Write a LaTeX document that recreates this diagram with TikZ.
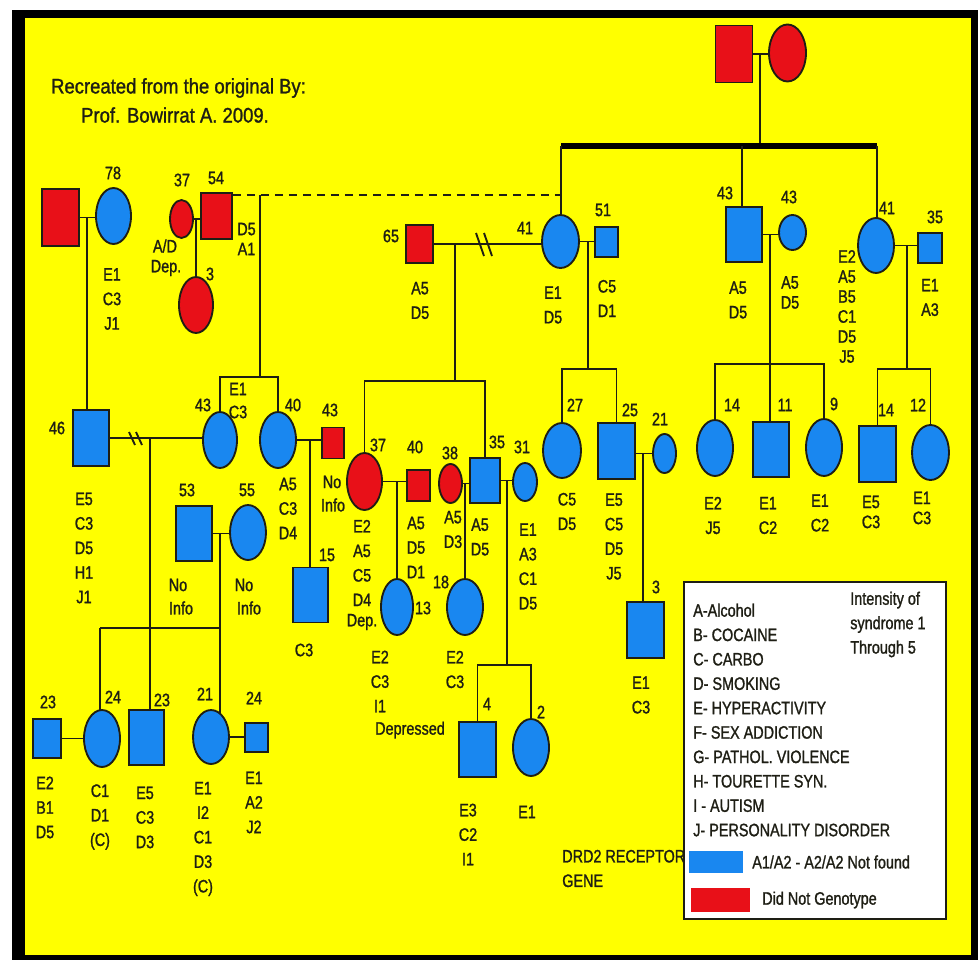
\documentclass[tikz,border=0pt]{standalone}
\usepackage{fontspec}
\setmainfont{Liberation Sans}
\newfontfamily\cf[FakeStretch=0.8,FakeBold=1.2]{Liberation Sans}
\newfontfamily\tf[FakeStretch=0.88,FakeBold=1.2]{Liberation Sans}
\usetikzlibrary{shapes.geometric}
\definecolor{yel}{RGB}{255,255,0}
\definecolor{blu}{RGB}{25,135,240}
\definecolor{rd}{RGB}{232,16,24}
\definecolor{ink}{RGB}{30,30,20}
\pgfdeclarelayer{bg}
\pgfdeclarelayer{lines}
\pgfsetlayers{bg,lines,main}
\begin{document}
\begin{tikzpicture}[x=0.75pt,y=-0.75pt,
  sq/.style 2 args={rectangle,draw=ink,line width=1.4pt,inner sep=0pt,minimum width=#1*0.75pt,minimum height=#2*0.75pt},
  el/.style 2 args={ellipse,draw=ink,line width=1.4pt,inner sep=0pt,minimum width=#1*0.75pt,minimum height=#2*0.75pt},
  B/.style={fill=blu}, R/.style={fill=rd},
  ln/.style={draw=ink,line width=1.4pt},
  dsh/.style={draw=ink,line width=1.6pt,dash pattern=on 6pt off 4.5pt},
  lab/.style={font=\cf\fontsize{13.5}{18.4}\selectfont, text=ink, inner sep=0pt, align=center},
  labt/.style={font=\cf\fontsize{13.5}{15}\selectfont, text=ink, inner sep=0pt, align=center},
  ttl/.style={font=\tf\fontsize{15.75}{20}\selectfont, text=ink, inner sep=0pt},
  lg/.style={font=\cf\fontsize{13.5}{18.3}\selectfont, text=ink, inner sep=0pt, align=left, anchor=west},
]
\path[use as bounding box] (0,0) rectangle (980,962);
\begin{pgfonlayer}{bg}
\fill[white] (0,0) rectangle (980,962);
\fill[black] (12,10) rectangle (978,960);
\fill[yel] (25,18) rectangle (971,955);
\end{pgfonlayer}

% ---------- title ----------
\node[ttl] (title1) at (178.5,88) {Recreated from the original By:};
\node[ttl] (title2) at (175,115) {Prof. Bowirrat A. 2009.};

% ---------- labels ----------
\node[lab] (t78) at (113,173) {78};
\node[lab] (t37a) at (182,180) {37};
\node[lab] (t54) at (216,178) {54};
\node[lab] (d78) at (112,299) {E1\\C3\\J1};
\node[lab] (tad) at (165,246) {A/D};
\node[lab] (tdep) at (166,268) {Dep.};
\node[labt] (d54) at (246.5,239) {D5\\A1};
\node[lab] (t3a) at (210,274) {3};
\node[lab] (t65) at (391,236) {65};
\node[lab] (d65) at (420,300.5) {A5\\D5};
\node[lab] (t41) at (525,228) {41};
\node[lab] (d41) at (553,305) {E1\\D5};
\node[lab] (t51) at (603,210) {51};
\node[lab] (d51) at (607,298.5) {C5\\D1};
\node[lab] (t43a) at (725,193) {43};
\node[lab] (d43a) at (738,300) {A5\\D5};
\node[lab] (t43b) at (789,197) {43};
\node[labt] (d43b) at (790,292.5) {A5\\D5};
\node[lab] (t41r) at (887,208) {41};
\node[labt] (d41r) at (847,306.5) {E2\\A5\\B5\\C1\\D5\\J5};
\node[lab] (t35r) at (935,217) {35};
\node[lab] (d35r) at (930,297.5) {E1\\A3};

\node[lab] (t46) at (57,428) {46};
\node[lab] (d46) at (84,548) {E5\\C3\\D5\\H1\\J1};
\node[lab] (t43l) at (203,405) {43};
\node[lab] (d43e) at (238,389) {E1};
\node[lab] (d43c) at (238,412) {C3};
\node[lab] (t40) at (293,405) {40};
\node[lab] (d40) at (288,508.5) {A5\\C3\\D4};
\node[lab] (t43r) at (330,410) {43};
\node[lab] (n43a) at (332,482) {No};
\node[lab] (n43b) at (333,505) {Info};
\node[lab] (t15) at (327,555) {15};
\node[lab] (d15) at (304,650) {C3};
\node[lab] (t53) at (187,490) {53};
\node[lab] (t55) at (247,490) {55};
\node[lab] (n53a) at (178,585) {No};
\node[lab] (n53b) at (181,608) {Info};
\node[lab] (n55a) at (244,585) {No};
\node[lab] (n55b) at (249,608) {Info};
\node[lab] (t37b) at (378,445) {37};
\node[lab] (d37b) at (362,563) {E2\\A5\\C5\\D4};
\node[lab] (dep37) at (362,622) {Dep.};
\node[lab] (t40r) at (415,447) {40};
\node[lab] (d40r) at (416,547.5) {A5\\D5\\D1};
\node[lab] (t13) at (423,608) {13};
\node[lab] (d13) at (380,681.5) {E2\\C3\\I1};
\node[lab] (dpr) at (410,730) {Depressed};
\node[lab] (t38) at (450,453) {38};
\node[lab] (d38) at (453,529.5) {A5\\D3};
\node[lab] (t35) at (497,442) {35};
\node[lab] (d35) at (480,537) {A5\\D5};
\node[lab] (t18) at (441,582) {18};
\node[lab] (d18) at (455,669.5) {E2\\C3};
\node[lab] (t31) at (522,447) {31};
\node[lab] (d31) at (528,566.5) {E1\\A3\\C1\\D5};
\node[lab] (t4) at (487,704) {4};
\node[lab] (d4) at (468,834.5) {E3\\C2\\I1};
\node[lab] (t2) at (541,712) {2};
\node[lab] (d2) at (527,812) {E1};
\node[lab,anchor=west,align=left] (drd) at (562,868.5) {DRD2 RECEPTOR\\GENE};
\node[lab] (t27) at (575,405) {27};
\node[lab] (d27) at (567,511.5) {C5\\D5};
\node[lab] (t25) at (630,410) {25};
\node[lab] (d25) at (614,536.5) {E5\\C5\\D5\\J5};
\node[lab] (t21) at (660,419) {21};
\node[lab] (t3b) at (656,587) {3};
\node[lab] (d3b) at (641,695) {E1\\C3};
\node[lab] (t14a) at (732,405) {14};
\node[lab] (d14a) at (713,515.5) {E2\\J5};
\node[lab] (t11) at (785,405) {11};
\node[lab] (d11) at (768,515.5) {E1\\C2};
\node[lab] (t9) at (834,404) {9};
\node[lab] (d9) at (820,513) {E1\\C2};
\node[lab] (t14b) at (886,410) {14};
\node[labt] (d14b) at (871,512) {E5\\C3};
\node[lab] (t12) at (918,405) {12};
\node[labt] (d12) at (922,508) {E1\\C3};

\node[lab] (t23a) at (48,702) {23};
\node[lab] (d23a) at (45,807.5) {E2\\B1\\D5};
\node[lab] (t24a) at (113,697) {24};
\node[lab] (d24a) at (100,817) {C1\\D1\\(C)};
\node[lab] (t23b) at (162,700) {23};
\node[lab] (d23b) at (145,817.5) {E5\\C3\\D3};
\node[lab] (t21b) at (205,694) {21};
\node[lab] (d21b) at (203,839) {E1\\I2\\C1\\D3\\(C)};
\node[lab] (t24b) at (254,698) {24};
\node[lab] (d24b) at (254,802.5) {E1\\A2\\J2};

% ---------- individuals ----------
\node[sq={37}{57},R] (gf) at (734,54) {};
\node[el={37}{57},R] (gm) at (787.5,53) {};

\node[sq={37}{57},R] (sqL) at (60.5,217.5) {};
\node[el={35}{56},B] (e78) at (113.5,216) {};
\node[el={23}{38},R] (e37a) at (181.5,219) {};
\node[sq={31}{46},R] (s54) at (216.5,216) {};
\node[el={34}{56},R] (e3) at (196,305) {};
\node[sq={27}{38},R] (s65) at (419.5,244) {};
\node[el={37}{53},B] (e41) at (560.5,241.5) {};
\node[sq={23}{30},B] (s51) at (606.5,242) {};
\node[sq={36}{55},B] (s43) at (744,234.5) {};
\node[el={27}{35},B] (e43r) at (792.5,232.5) {};
\node[el={36}{55},B] (e41r) at (876,245.5) {};
\node[sq={24}{30},B] (s35r) at (930,248) {};

\node[sq={36}{56},B] (s46) at (91,438) {};
\node[el={34}{56},B] (e43l) at (220,440) {};
\node[el={36}{56},B] (e40) at (278,440) {};
\node[sq={22}{31},R] (s43r) at (333,443) {};
\node[sq={35}{55},B] (s15) at (310.5,595) {};
\node[sq={36}{55},B] (s53) at (194,533.5) {};
\node[el={36}{55},B] (e55) at (248,532.5) {};
\node[el={35}{57},R] (e37b) at (364.5,481.5) {};
\node[sq={23}{31},R] (s40) at (418.5,485.5) {};
\node[el={32}{56},B] (e13) at (397,607) {};
\node[el={23}{39},R] (e38) at (450.5,483.5) {};
\node[sq={30}{45},B] (s35) at (485,480.5) {};
\node[el={36}{56},B] (e18) at (465,607) {};
\node[el={24}{38},B] (e31) at (525,482) {};
\node[el={38}{55},B] (e27) at (562,450.5) {};
\node[sq={37}{56},B] (s25) at (616.5,451) {};
\node[el={23}{39},B] (e21) at (664.5,453.5) {};
\node[sq={37}{56},B] (s3) at (645.5,630) {};
\node[el={36}{56},B] (e14) at (715,448) {};
\node[sq={36}{55},B] (s11) at (771,449.5) {};
\node[el={36}{57},B] (e9) at (824,447.5) {};
\node[sq={37}{56},B] (s14) at (877.5,454) {};
\node[el={37}{55},B] (e12) at (930.5,452.5) {};

\node[sq={28}{39},B] (s23a) at (47,738.5) {};
\node[el={36}{57},B] (e24) at (102,738.5) {};
\node[sq={35}{55},B] (s23b) at (146.5,737.5) {};
\node[el={36}{54},B] (e21b) at (211,737) {};
\node[sq={23}{29},B] (s24) at (256.5,737.5) {};
\node[sq={37}{55},B] (s4) at (477.5,749.5) {};
\node[el={36}{57},B] (e2) at (531,747.5) {};

% ---------- legend ----------
\node[draw=ink,fill=white,line width=1.6pt,minimum width=262*0.75pt,minimum height=337*0.75pt,inner sep=0pt] (legend) at (815,750.5) {};
\node[lg] (lgtext) at (693,720) {A-Alcohol\\B- COCAINE\\C- CARBO\\D- SMOKING\\E- HYPERACTIVITY\\F- SEX ADDICTION\\G- PATHOL. VIOLENCE\\H- TOURETTE SYN.\\I - AUTISM\\J- PERSONALITY DISORDER};
\node[lg] (lgint) at (850,624.5) {Intensity of\\syndrome 1\\Through 5};
\node[rectangle,fill=blu,inner sep=0pt,minimum width=54*0.75pt,minimum height=22*0.75pt] (kb) at (716,862) {};
\node[lg] (kbt) at (752,862) {A1/A2 - A2/A2 Not found};
\node[rectangle,fill=rd,inner sep=0pt,minimum width=59*0.75pt,minimum height=24*0.75pt] (kr) at (720.5,900) {};
\node[lg] (krt) at (762,900) {Did Not Genotype};

% ---------- connectors ----------
\coordinate (c0) at (760,54);
\coordinate (barL) at (561,146);
\coordinate (barM) at (742,146);
\coordinate (barR) at (877,146);
\coordinate (dR) at (561,195);
\coordinate (v54) at (260,195);
\coordinate (sb1) at (260,377);
\coordinate (m78) at (87,217.5);
\coordinate (m54) at (196,219);
\coordinate (m46) at (150,438);
\coordinate (sb4L) at (100,628);
\coordinate (sb4R) at (220,628);
\coordinate (m53) at (220,533.5);
\coordinate (m40) at (310,440);
\coordinate (m65) at (455,244);
\coordinate (sb2) at (455,381);
\coordinate (m41) at (588,241.5);
\coordinate (sb3) at (588,369);
\coordinate (m25) at (643,453.5);
\coordinate (m37) at (397,481.5);
\coordinate (m38) at (465,483.5);
\coordinate (m35) at (507,480.5);
\coordinate (sb5) at (507,665);
\coordinate (m43) at (770,234.5);
\coordinate (sb6) at (770,364);
\coordinate (m41r) at (907,245.5);
\coordinate (sb7) at (907,369);

\begin{pgfonlayer}{lines}
\draw[ln] (gf.center) -- (gf.center -| gm.center);
\draw[ln] (c0) -- (c0 |- barL);
\draw[draw=black,line width=3.8pt] (barL) -- (barR);
\draw[ln] (barL) -- (barL |- e41.center);
\draw[ln] (barM) -- (barM |- s43.center);
\draw[ln] (barR) -- (barR |- e41r.center);
\draw[dsh] (s54.east |- dR) -- (dR);
\draw[ln] (v54) -- (sb1);
\draw[ln] (e43l.center) |- (sb1) -| (e40.center);
\draw[ln] (sqL.center) -- (sqL.center -| e78.center);
\draw[ln] (m78) -- (m78 |- s46.center);
\draw[ln] (e37a.center) -- (e37a.center -| s54.center);
\draw[ln] (m54) -- (m54 |- e3.center);
\draw[ln] (s46.center) -- (s46.center -| e43l.center);
\draw[ln] (129,432) -- (135,445) (136,432) -- (142,445);
\draw[ln] (m46) -- (m46 |- s23b.center);
\draw[ln] (sb4L) -- (sb4R);
\draw[ln] (sb4L) -- (sb4L |- e24.center);
\draw[ln] (s53.center) -- (s53.center -| e55.center);
\draw[ln] (m53) -- (m53 |- e21b.center);
\draw[ln] (s23a.center) -- (s23a.center -| e24.center);
\draw[ln] (e21b.center) -- (e21b.center -| s24.center);
\draw[ln] (e40.center) -- (e40.center -| s43r.center);
\draw[ln] (m40) -- (m40 |- s15.center);
\draw[ln] (s65.center) -- (s65.center -| e41.center);
\draw[ln] (476,233) -- (484,256) (484,233) -- (492,256);
\draw[ln] (m65) -- (sb2);
\draw[ln] (e37b.center) |- (sb2) -| (s35.center);
\draw[ln] (e41.center) -- (e41.center -| s51.center);
\draw[ln] (m41) -- (sb3);
\draw[ln] (e27.center) |- (sb3) -| (s25.center);
\draw[ln] (s25.center |- e21.center) -- (e21.center);
\draw[ln] (m25) -- (m25 |- s3.center);
\draw[ln] (e37b.center) -- (e37b.center -| s40.center);
\draw[ln] (m37) -- (m37 |- e13.center);
\draw[ln] (e38.center) -- (e38.center -| s35.center);
\draw[ln] (m38) -- (m38 |- e18.center);
\draw[ln] (s35.center) -- (s35.center -| e31.center);
\draw[ln] (m35) -- (sb5);
\draw[ln] (s4.center) |- (sb5) -| (e2.center);
\draw[ln] (s43.center) -- (s43.center -| e43r.center);
\draw[ln] (m43) -- (sb6);
\draw[ln] (e14.center) |- (sb6) -| (e9.center);
\draw[ln] (sb6) -- (sb6 |- s11.center);
\draw[ln] (e41r.center) -- (e41r.center -| s35r.center);
\draw[ln] (m41r) -- (sb7);
\draw[ln] (s14.center) |- (sb7) -| (e12.center);
\end{pgfonlayer}
\end{tikzpicture}
\end{document}
